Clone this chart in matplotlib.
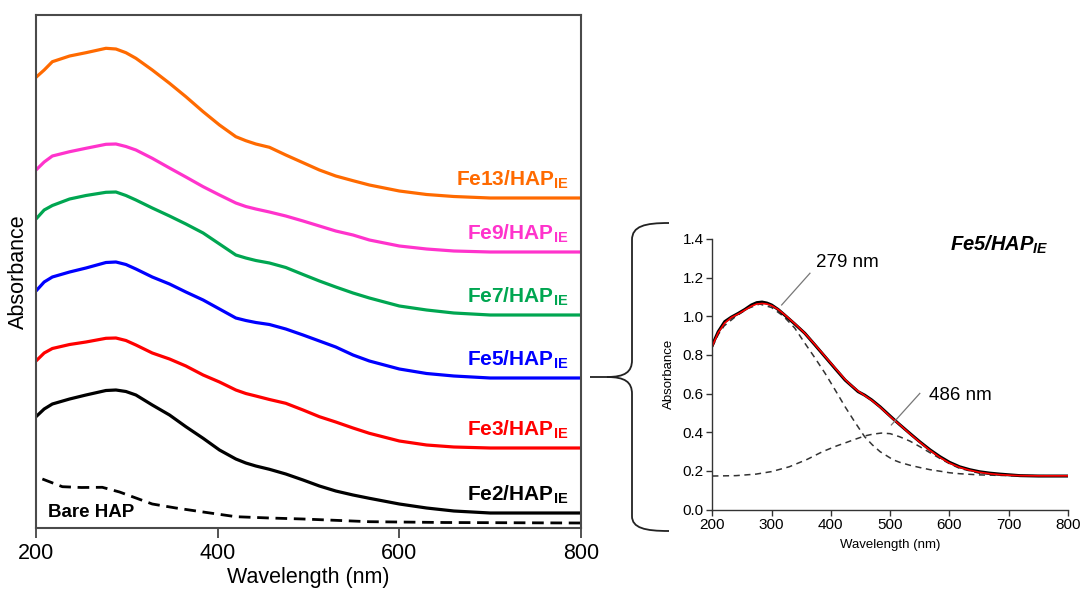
import matplotlib
matplotlib.use("Agg")
import matplotlib.pyplot as plt
from matplotlib.path import Path
from matplotlib.patches import PathPatch

plt.rcParams['font.family'] = ['Liberation Sans', 'DejaVu Sans']
plt.rcParams['mathtext.fontset'] = 'custom'
plt.rcParams['mathtext.rm'] = 'Liberation Sans'
plt.rcParams['mathtext.bf'] = 'Liberation Sans:bold'
plt.rcParams['mathtext.it'] = 'Liberation Sans:italic:bold'

# ---------------- Left panel data (stacked, arbitrary units) ----------------
wl = [200, 209, 218, 237, 255, 277, 288, 299, 310, 328, 347, 365, 384, 402, 420,
      431, 442, 457, 475, 494, 512, 530, 549, 567, 600, 630, 660, 700, 750, 800]
fe13 = [4.507, 4.58, 4.663, 4.72, 4.753, 4.797, 4.79, 4.753, 4.697, 4.58, 4.447,
        4.313, 4.163, 4.03, 3.913, 3.873, 3.84, 3.807, 3.73, 3.653, 3.58, 3.52,
        3.473, 3.43, 3.37, 3.335, 3.315, 3.30, 3.30, 3.30]
fe9 = [3.58, 3.66, 3.72, 3.763, 3.797, 3.837, 3.84, 3.815, 3.78, 3.697, 3.60,
       3.51, 3.413, 3.33, 3.25, 3.215, 3.19, 3.16, 3.12, 3.07, 3.02, 2.97, 2.93,
       2.88, 2.82, 2.79, 2.77, 2.76, 2.76, 2.76]
fe7 = [3.09, 3.18, 3.225, 3.29, 3.325, 3.357, 3.36, 3.325, 3.28, 3.20, 3.12,
       3.04, 2.95, 2.84, 2.73, 2.70, 2.675, 2.65, 2.605, 2.535, 2.47, 2.41, 2.35,
       2.30, 2.22, 2.18, 2.15, 2.13, 2.13, 2.13]
fe5 = [2.37, 2.46, 2.51, 2.56, 2.60, 2.655, 2.66, 2.635, 2.59, 2.51, 2.44, 2.36,
       2.28, 2.19, 2.10, 2.075, 2.055, 2.035, 1.99, 1.93, 1.87, 1.81, 1.73, 1.67,
       1.59, 1.545, 1.52, 1.50, 1.50, 1.50]
fe3 = [1.67, 1.75, 1.795, 1.835, 1.86, 1.897, 1.90, 1.875, 1.83, 1.75, 1.69,
       1.62, 1.53, 1.46, 1.38, 1.345, 1.32, 1.285, 1.247, 1.18, 1.113, 1.06, 1.00,
       0.947, 0.87, 0.83, 0.81, 0.80, 0.80, 0.80]
fe2 = [1.113, 1.19, 1.24, 1.29, 1.33, 1.375, 1.38, 1.365, 1.33, 1.23, 1.13,
       1.013, 0.897, 0.78, 0.69, 0.65, 0.62, 0.587, 0.54, 0.48, 0.42, 0.37, 0.33,
       0.297, 0.24, 0.20, 0.17, 0.15, 0.15, 0.15]
wl_bare = [207, 229, 250, 273, 292, 310, 328, 354, 384, 420, 457, 494, 567, 650, 800]
bare = [0.49, 0.413, 0.405, 0.407, 0.36, 0.30, 0.24, 0.20, 0.16, 0.113, 0.10,
        0.09, 0.063, 0.055, 0.05]

series = [
    (fe13, '#FF6A00', 'Fe13/HAP$_{\\mathbf{IE}}$'),
    (fe9, '#FF33CC', 'Fe9/HAP$_{\\mathbf{IE}}$'),
    (fe7, '#00A651', 'Fe7/HAP$_{\\mathbf{IE}}$'),
    (fe5, '#0000FF', 'Fe5/HAP$_{\\mathbf{IE}}$'),
    (fe3, '#FF0000', 'Fe3/HAP$_{\\mathbf{IE}}$'),
    (fe2, '#000000', 'Fe2/HAP$_{\\mathbf{IE}}$'),
]

# ---------------- Right panel data (Fe5/HAP_IE deconvolution) ----------------
wl_meas = [200, 210, 221, 232, 244, 255, 266, 275, 284, 292, 300, 311, 322, 339,
           356, 373, 390, 407, 424, 435, 446, 457, 469, 483, 505, 516, 533, 550,
           567, 584, 600, 617, 634, 651, 668, 685, 702, 719, 750, 800]
measured = [0.851, 0.920, 0.972, 0.995, 1.015, 1.035, 1.058, 1.070, 1.073, 1.068,
            1.058, 1.035, 1.006, 0.960, 0.912, 0.852, 0.791, 0.730, 0.670, 0.640,
            0.610, 0.592, 0.567, 0.532, 0.470, 0.440, 0.395, 0.351, 0.310, 0.274,
            0.245, 0.222, 0.207, 0.196, 0.189, 0.184, 0.180, 0.176, 0.174, 0.174]
fitted = [0.845, 0.915, 0.965, 0.993, 1.012, 1.032, 1.052, 1.063, 1.066, 1.063,
          1.055, 1.035, 1.008, 0.962, 0.912, 0.854, 0.793, 0.733, 0.673, 0.641,
          0.613, 0.590, 0.565, 0.530, 0.468, 0.440, 0.393, 0.349, 0.307, 0.270,
          0.241, 0.219, 0.204, 0.193, 0.186, 0.181, 0.178, 0.176, 0.175, 0.175]
wl_p1 = [200, 210, 220, 240, 260, 280, 300, 320, 339, 356, 373, 390, 407, 424,
         440, 457, 470, 483, 505, 516, 533, 550, 567, 584, 600, 617, 650, 700, 800]
peak1 = [0.840, 0.905, 0.950, 1.000, 1.040, 1.063, 1.045, 1.000, 0.939, 0.861,
         0.785, 0.706, 0.620, 0.532, 0.455, 0.377, 0.335, 0.300, 0.258, 0.245,
         0.230, 0.218, 0.207, 0.199, 0.191, 0.186, 0.180, 0.176, 0.175]
wl_p2 = [200, 240, 274, 300, 330, 360, 386, 410, 424, 440, 457, 470, 485, 500,
         516, 533, 550, 567, 584, 600, 617, 651, 685, 720, 800]
peak2 = [0.174, 0.176, 0.184, 0.197, 0.222, 0.260, 0.300, 0.330, 0.345, 0.363,
         0.381, 0.390, 0.396, 0.393, 0.377, 0.355, 0.326, 0.295, 0.265, 0.238,
         0.214, 0.188, 0.179, 0.176, 0.175]
peak_labels = ['279 nm', '486 nm']

W, H = 1082, 594
fig = plt.figure(figsize=(W / 100, H / 100), dpi=100)

# ---------------- Left axes ----------------
axL = fig.add_axes([36 / W, 1 - 528 / H, (581 - 36) / W, (528 - 15) / H])
for s, c, lab in series:
    axL.plot(wl, s, color=c, lw=2.3, solid_capstyle='butt', solid_joinstyle='round')
    axL.annotate(lab, xy=(800, s[-1]), xytext=(-9, 9), textcoords='offset points',
                 ha='right', va='baseline', color=c, fontsize=15, fontweight='bold')
axL.plot(wl_bare, bare, color='black', lw=2.0, dashes=(4.2, 2.4))
axL.text(213, 0.11, 'Bare HAP', fontsize=13.5, fontweight='bold', ha='left',
         va='baseline')
axL.set_xlim(200, 800)
axL.set_ylim(0, 5.13)
axL.set_xticks([200, 400, 600, 800])
axL.set_yticks([])
axL.tick_params(axis='x', direction='out', length=7, width=1.3, color='#444444',
                labelsize=15.5, pad=4)
for sp in axL.spines.values():
    sp.set_color('#4a4a4a')
    sp.set_linewidth(1.5)
axL.set_xlabel('Wavelength (nm)', fontsize=15.5, labelpad=2)
axL.set_ylabel('Absorbance', fontsize=15.5, labelpad=5)

# ---------------- Right axes ----------------
axR = fig.add_axes([712.3 / W, 1 - 509.7 / H, (1068 - 712.3) / W, (509.7 - 238.8) / H])
axR.plot(wl_p1, peak1, color='#333333', lw=1.1, dashes=(4, 3))
axR.plot(wl_p2, peak2, color='#333333', lw=1.1, dashes=(4, 3))
axR.plot(wl_meas, measured, color='black', lw=2.2, solid_joinstyle='round')
axR.plot(wl_meas, fitted, color='#FF0000', lw=1.2, solid_joinstyle='round')
axR.set_xlim(200, 800)
axR.set_ylim(0, 1.4)
axR.set_xticks([200, 300, 400, 500, 600, 700, 800])
axR.set_yticks([0.0, 0.2, 0.4, 0.6, 0.8, 1.0, 1.2, 1.4])
axR.set_yticklabels([f'{v:.1f}' for v in axR.get_yticks()])
axR.spines['top'].set_visible(False)
axR.spines['right'].set_visible(False)
for sp in ('left', 'bottom'):
    axR.spines[sp].set_color('#333333')
    axR.spines[sp].set_linewidth(1.0)
axR.tick_params(direction='out', length=4, width=1.0, color='#333333',
                labelsize=11, pad=2)
axR.set_xlabel('Wavelength (nm)', fontsize=9.5, labelpad=5)
axR.set_ylabel('Absorbance', fontsize=9.5, labelpad=6)

axR.plot([317, 364.7], [1.058, 1.222], color='#777777', lw=0.9)
axR.text(374.8, 1.256, peak_labels[0], fontsize=13.5, ha='left', va='baseline')
axR.plot([502, 550], [0.438, 0.601], color='#777777', lw=0.9)
axR.text(565.8, 0.567, peak_labels[1], fontsize=13.5, ha='left', va='baseline')
axR.text(600.6, 1.338, 'Fe5/HAP$_{\\mathit{IE}}$', fontsize=14.5,
         fontweight='bold', fontstyle='italic', ha='left', va='baseline')

# ---------------- Curly brace connecting the panels ----------------
def fp(x, y):
    return (x / W, 1 - y / H)

verts = [fp(669, 223), fp(645, 223), fp(632, 226), fp(632, 240),
         fp(632, 360),
         fp(632, 372), fp(625, 377), fp(607, 377),
         fp(590, 377),
         fp(607, 377), fp(625, 377), fp(632, 382), fp(632, 394),
         fp(632, 516),
         fp(632, 528), fp(645, 531), fp(669, 531)]
codes = [Path.MOVETO, Path.CURVE4, Path.CURVE4, Path.CURVE4,
         Path.LINETO,
         Path.CURVE4, Path.CURVE4, Path.CURVE4,
         Path.LINETO,
         Path.MOVETO, Path.CURVE4, Path.CURVE4, Path.CURVE4,
         Path.LINETO,
         Path.CURVE4, Path.CURVE4, Path.CURVE4]
brace = PathPatch(Path(verts, codes), transform=fig.transFigure, fill=False,
                  edgecolor='#222222', lw=1.3)
fig.patches.append(brace)

fig.savefig('out.png', dpi=100)
